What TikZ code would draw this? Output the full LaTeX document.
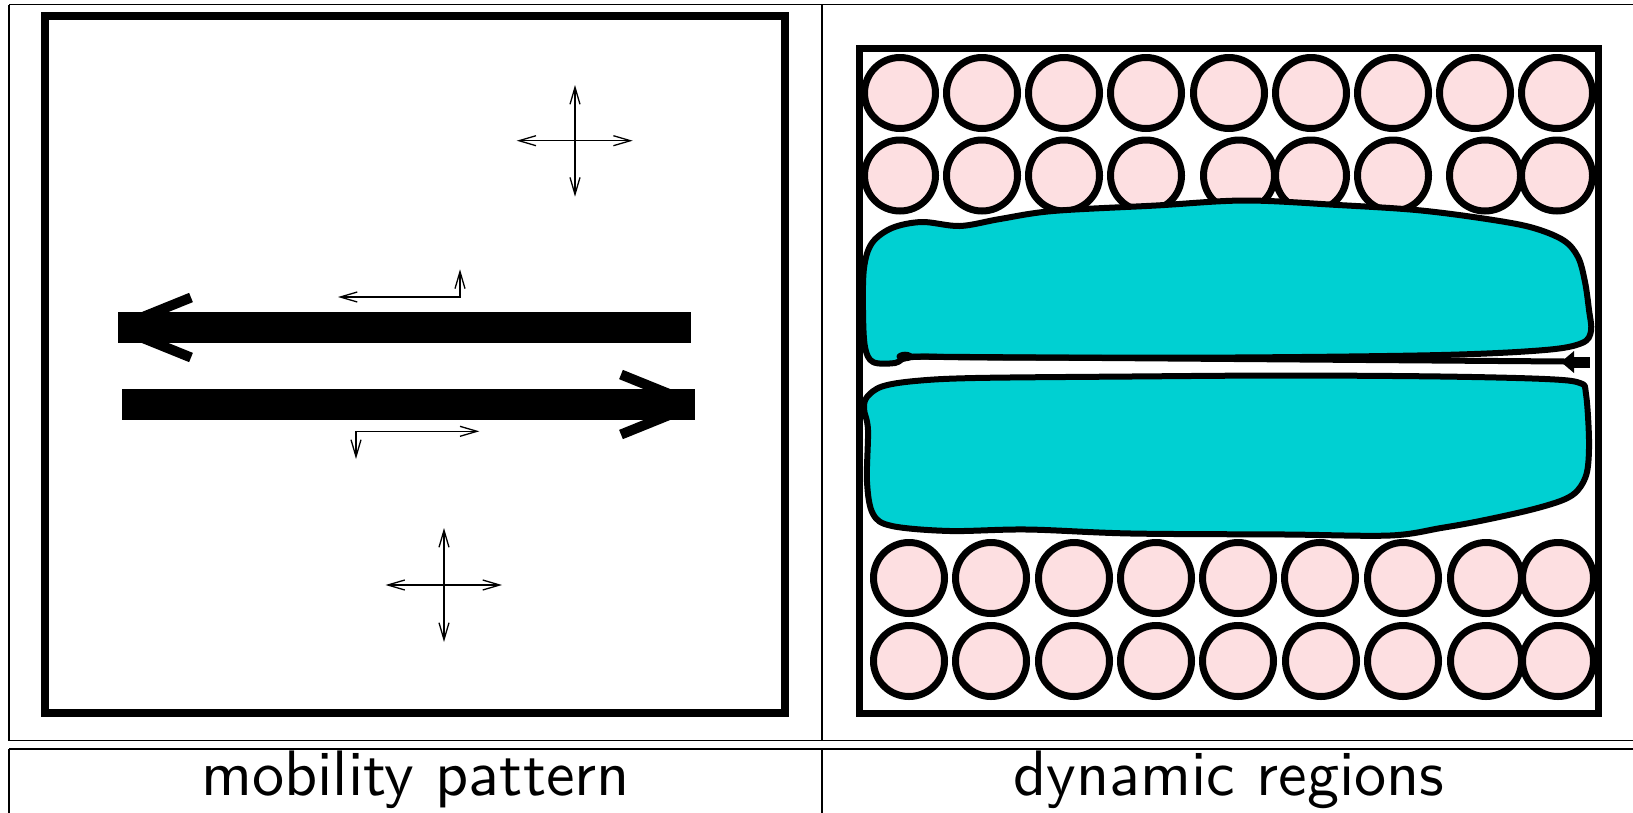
\documentclass[tikz,border=0pt]{standalone}
\usepackage{graphicx}
\usetikzlibrary{arrows.meta}
\definecolor{pinkc}{RGB}{253,223,225}
\definecolor{cyanc}{RGB}{0,208,210}
\tikzset{
  tbl/.style={line width=1.5pt},
  frame/.style={line width=8pt},
  chev/.style={line width=10pt},
  thinarr/.style={line width=1.3pt, {Straight Barb[length=17pt,width=10pt]}-{Straight Barb[length=17pt,width=10pt]}},
  ball/.style={draw, line width=7pt, fill=pinkc},
  blob/.style={draw, line width=6pt, fill=cyanc, line join=round},
  lbl/.style={anchor=base, inner sep=0pt}
}
\newcommand{\biglabel}[1]{\scalebox{6.42}{\sffamily\fontsize{10}{12}\selectfont #1}}
\begin{document}
\begin{tikzpicture}[x=1pt,y=-1pt]
\useasboundingbox (0,0) rectangle (1633,812);
% table lines
\draw[tbl] (9,4.5) -- (1650,4.5);
\draw[tbl] (9,4.5) -- (9,740.5);
\draw[tbl] (822,4.5) -- (822,740.5);
\draw[tbl] (9,740.5) -- (1650,740.5);
\draw[tbl] (9,749) -- (1650,749);
\draw[tbl] (9,749) -- (9,830);
\draw[tbl] (822,749) -- (822,830);
% labels
\node[lbl] (lab1) at (415.5,795) {\biglabel{mobility pattern}};
\node[lbl] (lab2) at (1229,795) {\biglabel{dynamic regions}};
% left panel
\draw[frame] (44.5,16) rectangle (784.5,713);
\fill (118,312) rectangle (691,343);
\fill (122,389) rectangle (695,420);
\draw[chev] (191,297.5) -- (130,322.2);
\draw[chev] (191,357.5) -- (130,332.8);
\draw[chev] (621,374.5) -- (682,399.2);
\draw[chev] (621,434.5) -- (682,409.8);
% crosses
\draw[thinarr] (516.7,140.7) -- (632.7,140.7);
\draw[thinarr] (575,85) -- (575,196.7);
\draw[thinarr] (385.5,585) -- (502,585);
\draw[thinarr] (444,528) -- (444,642);
% L arrows
\draw[thinarr] (338,297) -- (460,297) -- (460,269.3);
\draw[thinarr] (479.3,431.3) -- (356,431.3) -- (356,459);
% right panel circles
\foreach \x in {900,982,1064,1146,1229,1311,1393,1475,1557} {\draw[ball] (\x,93) circle[radius=35.5];}
\foreach \x in {900,982,1064,1146,1239,1311,1393,1485,1557} {\draw[ball] (\x,175.5) circle[radius=35.5];}
\foreach \x in {909,991,1074,1156,1238,1320,1403,1486,1558} {\draw[ball] (\x,578) circle[radius=35.5];}
\foreach \x in {909,991,1074,1156,1238,1321,1403,1486,1558} {\draw[ball] (\x,661) circle[radius=35.5];}
% blobs
\draw[blob] plot[smooth cycle, tension=0.55] coordinates {
 (864,268) (872,243) (892,228) (922,222) (960,226) (1000,219) (1053,211) (1156,205.5) (1245,200.5) (1338,205) (1416,210) (1480,218) (1530,227) (1563,240) (1578,257) (1585,282) (1589,310) (1591,331) (1582,343) (1545,350) (1441,355) (1234,357.5) (991,357.5) (913,357) (895,363) (873,362) (865,347) (863,311)};
\draw[blob] plot[smooth cycle, tension=0.55] coordinates {
 (867,397) (882,386.5) (915,381) (975,378) (1131,376.5) (1286,375.5) (1441,376.5) (1545,379) (1580,383) (1586,394) (1589,440) (1587,472) (1578,490) (1563,500) (1530,510) (1480,521) (1441,528) (1390,535.5) (1286,534.5) (1131,533.5) (1027,529.5) (950,531) (892,526) (873,514) (867,482) (868,430) (864,409)};
% dividing line with ends
\coordinate (ls) at (905,356.5);
\coordinate (le) at (1565,361.5);
\draw[line width=6pt] (ls) -- (le);
\fill (ls) ellipse[x radius=8.5, y radius=4.8];
\fill (1561,362) -- (1574,351) -- (1574,373) -- cycle;
\fill (1572,356.5) rectangle (1590,367.5);
% right frame
\draw[line width=7pt] (859,48) rectangle (1598.5,713);
\end{tikzpicture}
\end{document}
